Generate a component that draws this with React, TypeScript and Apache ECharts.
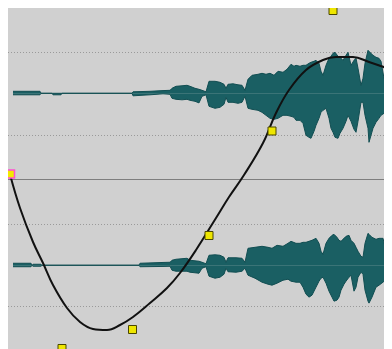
import React, { useEffect, useRef } from "react";
import * as echarts from "echarts";

// Time positions (screen-aligned time units) and envelope levels for the upper (left) channel
const leftTime = [13, 40, 41, 52, 53, 61, 62, 132, 133, 150, 163, 170, 172, 176, 182, 187, 190, 195, 199, 202, 206, 209, 215, 220, 224, 226, 228, 233, 238, 242, 245, 248, 252, 258, 262, 266, 270, 274, 278, 283, 287, 291, 294, 296, 300, 303, 306, 309, 311, 314, 316, 319, 321, 323, 326, 329, 331, 333, 335, 338, 340, 343, 346, 348, 351, 354, 356, 358, 361, 363, 365, 368, 369, 371, 373, 376, 379, 381, 384, 386, 388, 391, 392];
const leftUpper = [2, 2, 0, 0, 0, 0, 0, 0, 1.5, 2, 2.7, 3, 5, 7, 7.5, 8, 7, 5, 4, 3, 1.5, 12, 12, 11, 9, 5, 9, 9.5, 8.5, 8, 3, 14, 18, 19, 20, 19, 20, 18, 22, 21, 24, 29, 27, 28, 27, 28, 28, 30, 31, 32, 33, 30, 22, 18, 28, 35, 37, 40, 41, 37, 36, 33, 38, 41, 28, 33, 35, 25, 8, 15, 30, 43, 42, 40, 38, 36, 35, 32, 15, 22, 25, 25, 25];
const leftLower = [-1.5, -1.5, 0, 0, -1.5, -1.5, 0, 0, -2.5, -1.5, -0.5, -1, -5, -6, -6.5, -6, -7, -8, -9.6, -3, -1.5, -13, -15, -14, -11, -4, -9, -9, -10, -9, -3, -15, -16, -17, -19, -22, -25, -26, -25, -22, -22, -23, -24, -27, -27, -30, -42, -44, -45, -38, -32, -25, -19, -17, -15, -25, -35, -39, -44, -45, -40, -35, -28, -22, -28, -36, -39, -28, -9, -9, -22, -35, -49, -42, -35, -29, -25, -22, -20, -18, -16, -15, -15];

// Lower (right) channel
const rightTime = [13, 31, 32, 33, 41, 42, 139, 140, 163, 170, 172, 176, 187, 190, 199, 202, 206, 209, 215, 220, 224, 226, 228, 236, 242, 245, 248, 255, 262, 268, 272, 277, 283, 288, 291, 296, 300, 303, 306, 309, 312, 316, 319, 321, 323, 326, 329, 332, 334, 337, 339, 341, 344, 346, 349, 351, 354, 356, 358, 361, 363, 365, 368, 369, 372, 376, 379, 383, 386, 388, 391, 392];
const rightUpper = [2, 2, 0, 1, 1, 0, 0, 2, 2.8, 3, 5, 6, 7, 5, 4, 3, 1.5, 10, 10.5, 10, 8, 3, 7.5, 7.5, 7, 3, 17, 18, 19, 18, 17, 20, 19, 22, 24, 22, 22, 23, 23, 24, 25, 27, 22, 14, 11, 22, 27, 30, 31, 28, 25, 24, 27, 29, 30, 25, 22, 18, 14, 9, 8, 22, 32, 31, 28, 26, 27, 27, 14, 17, 18, 18];
const rightLower = [-1.5, -1.5, 0, -1, -1, 0, 0, -1.5, -1.2, -1, -5, -6, -6, -7, -8, -3, -1.5, -11, -13, -12, -9, -3, -6.5, -7, -6, -3, -10, -13, -17, -19, -20, -18, -15, -14, -16, -17, -17, -22, -29, -32, -30, -22, -16, -13, -12, -18, -26, -32, -36, -35, -32, -25, -19, -16, -12, -10, -26, -22, -12, -7, -9, -25, -36, -38, -32, -22, -20, -17, -14, -12, -10, -10];

// Envelope (gain) curve, sampled along time
const curveTime = [10, 20, 33, 43, 53, 67, 80, 93, 107, 120, 133, 150, 167, 180, 196, 216, 229, 244, 263, 276, 289, 306, 323, 336, 353, 369, 392];
const curveLevel = [4, -29.5, -63.5, -84.5, -106.5, -129.5, -143.5, -150.5, -151.5, -146.5, -138.5, -124.5, -109.5, -94.5, -71.5, -39.5, -18.5, 3.5, 35.5, 65.5, 88.5, 108.5, 118.5, 121.5, 121.5, 116.5, 108.5];

// Envelope control points
const pointTime = [10.5, 62, 132.5, 209, 272, 333];
const pointLevel = [4.5, -170, -151, -57, 47.5, 168];

const TEAL_FILL = "#1a5f63";
const TEAL_LINE = "#124e52";

function zip(a: number[], b: number[]) {
  return a.map((t, i) => [t, b[i]]);
}

export default function App() {
  const ref = useRef<HTMLDivElement>(null);
  useEffect(() => {
    if (!ref.current) return;
    const chart = echarts.init(ref.current, null, { renderer: "svg" });
    const xAx = (gi: number) => ({ type: "value", gridIndex: gi, min: 8, max: 392, show: false });
    const chanY = (gi: number) => ({ type: "value", gridIndex: gi, min: -84, max: 84, show: false });
    const grid = { type: [4, 2] as any, color: "#9c9c9c", width: 1 };
    const wave = (gi: number, t: number[], v: number[], withGrid: boolean) => ({
      type: "line",
      xAxisIndex: gi,
      yAxisIndex: gi,
      data: zip(t, v),
      showSymbol: false,
      symbol: "none",
      smooth: false,
      lineStyle: { color: TEAL_LINE, width: 1 },
      areaStyle: { color: TEAL_FILL, opacity: 1 },
      z: 3,
      markLine: withGrid
        ? {
            silent: true,
            symbol: "none",
            label: { show: false },
            lineStyle: { type: [1, 2], color: "#9a9a9a", width: 1 },
            data: [{ yAxis: 41.5 }, { yAxis: -41.5 }],
            z: 1,
          }
        : undefined,
    });
    chart.setOption({
      animation: false,
      backgroundColor: "#d0d0d0",
      grid: [
        { left: 0, right: 0, top: 1.3, height: 168 },
        { left: 0, right: 0, top: 173.5, height: 168 },
        { left: 0, right: 0, top: 0, height: 341 },
      ],
      xAxis: [xAx(0), xAx(1), xAx(2)],
      yAxis: [chanY(0), chanY(1), { type: "value", gridIndex: 2, min: -170.5, max: 170.5, show: false }],
      series: [
        wave(0, leftTime, leftUpper, true),
        wave(0, leftTime, leftLower, false),
        wave(1, rightTime, rightUpper, true),
        wave(1, rightTime, rightLower, false),
        {
          type: "line",
          xAxisIndex: 2,
          yAxisIndex: 2,
          data: [],
          z: 2,
          markLine: {
            silent: true,
            symbol: "none",
            label: { show: false },
            lineStyle: { type: "solid", color: "#7e7e7e", width: 1 },
            data: [{ yAxis: -0.5 }],
          },
        },
        {
          type: "line",
          xAxisIndex: 2,
          yAxisIndex: 2,
          data: zip(curveTime, curveLevel),
          smooth: 0.4,
          showSymbol: false,
          symbol: "none",
          lineStyle: { color: "#111111", width: 2 },
          z: 5,
        },
        {
          type: "scatter",
          xAxisIndex: 2,
          yAxisIndex: 2,
          data: zip(pointTime, pointLevel).map((p, i) => ({
            value: p,
            itemStyle: i === 0 ? { color: "#f2ea00", borderColor: "#ff4fd0", borderWidth: 1.5 } : undefined,
          })),
          symbol: "rect",
          symbolSize: 8,
          itemStyle: { color: "#eee600", borderColor: "#4a4700", borderWidth: 1, opacity: 1 },
          z: 6,
        },
      ],
    });
    return () => chart.dispose();
  }, []);
  return <div ref={ref} style={{ width: 384, height: 341 }} />;
}
